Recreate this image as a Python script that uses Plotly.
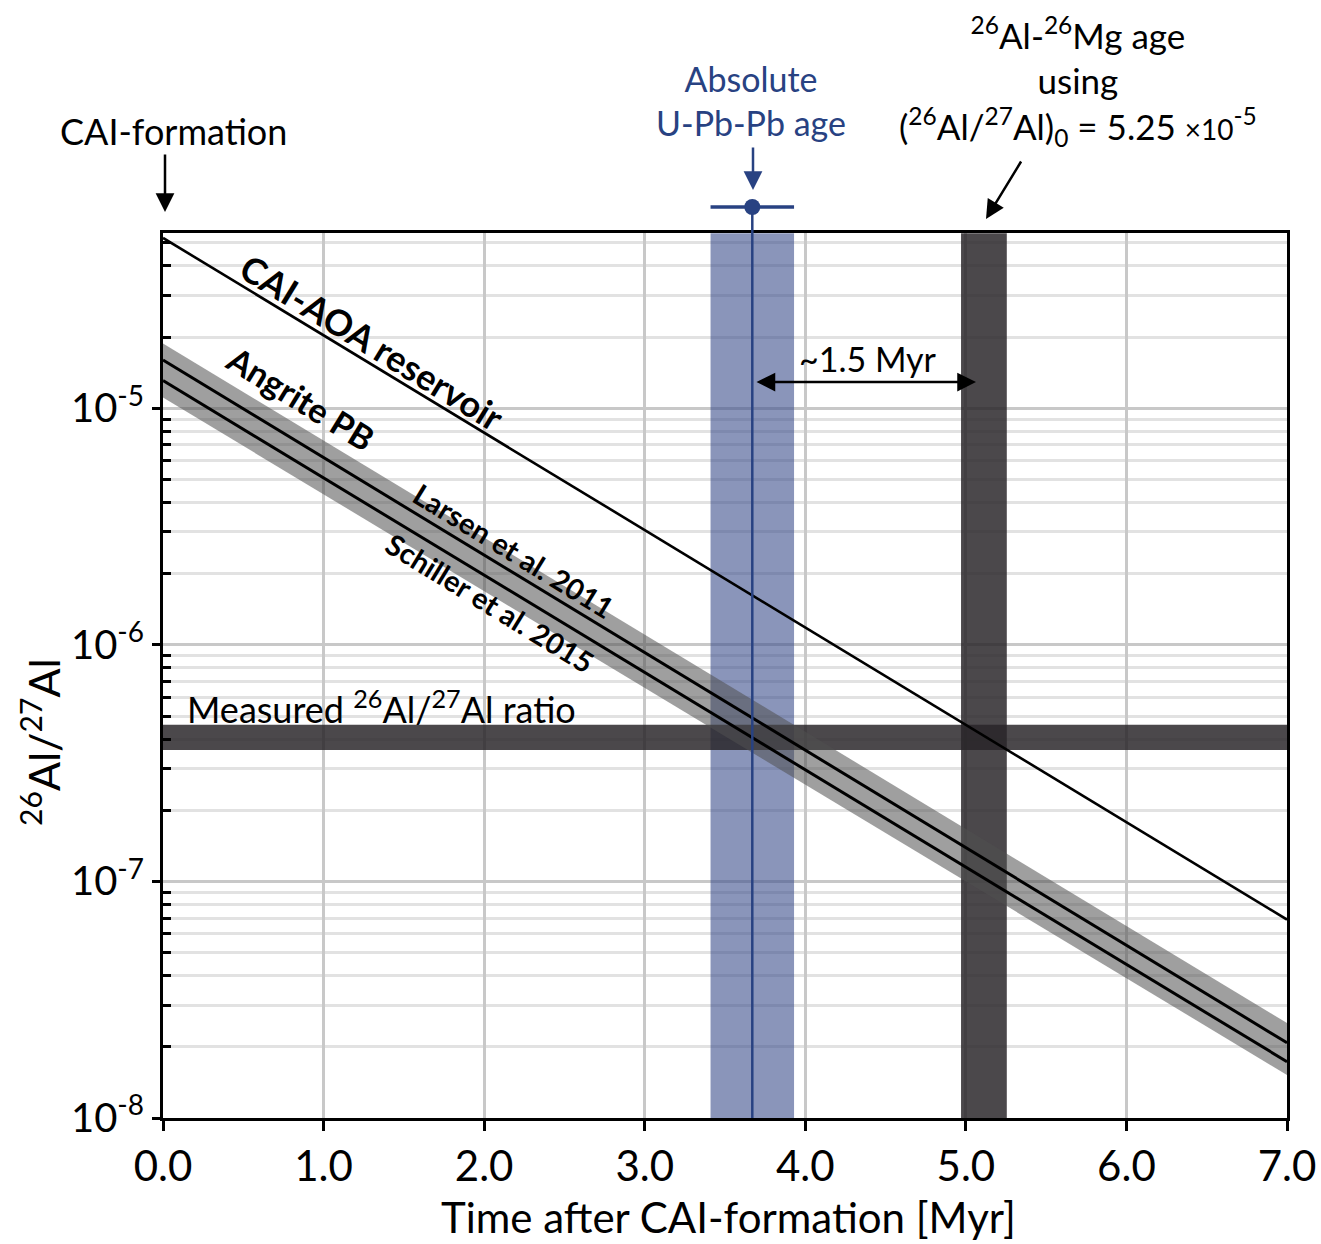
import plotly.graph_objects as go

# ---------------- data ----------------
TIME = [0.0, 7.0]                       # Myr after CAI formation
CAI_AOA = [5.25e-5, 6.9e-8]             # CAI-AOA reservoir
LARSEN = [1.60e-5, 2.08e-8]             # Larsen et al. 2011
SCHILLER = [1.31e-5, 1.73e-8]           # Schiller et al. 2015
ANGRITE_HI = [1.88e-5, 2.52e-8]         # Angrite PB envelope (upper)
ANGRITE_LO = [1.11e-5, 1.52e-8]         # Angrite PB envelope (lower)
MEASURED = [3.59e-7, 4.59e-7]           # measured 26Al/27Al ratio band
PBPB_AGE = 3.67                         # absolute U-Pb-Pb age (Myr after CAI)
PBPB_ERR = 0.26
ALMG_AGE = [4.97, 5.255]                # 26Al-26Mg age band
Y_RANGE = [1e-8, 5.5e-5]
DECADES = [-8, -7, -6, -5]
X_TICKS = [0, 1, 2, 3, 4, 5, 6, 7]

FONT = "Lato, 'Open Sans', sans-serif"
NAVY = "rgb(40,66,130)"

# pixel geometry of the frame
W, H = 1321, 1244
L, R, T, B = 163, 34, 233, 126
PW, PH = W - L - R, H - T - B


def px(xpix):
    return (xpix - L) / PW


def py(ypix):
    return (H - B - ypix) / PH


fig = go.Figure()


def band(xs, ys, color):
    fig.add_trace(go.Scatter(x=[xs[0], xs[1], xs[1], xs[0], xs[0]],
                             y=[ys[0], ys[0], ys[1], ys[1], ys[0]],
                             mode="lines", line=dict(width=0), fill="toself",
                             fillcolor=color, showlegend=False, hoverinfo="skip"))


band([PBPB_AGE - PBPB_ERR, PBPB_AGE + PBPB_ERR], Y_RANGE, "rgba(60,78,140,0.6)")
band(ALMG_AGE, Y_RANGE, "rgba(40,37,41,0.84)")
band(TIME, MEASURED, "rgba(40,37,41,0.84)")

# Angrite PB envelope
fig.add_trace(go.Scatter(x=TIME, y=ANGRITE_HI, mode="lines", line=dict(width=0),
                         showlegend=False, hoverinfo="skip"))
fig.add_trace(go.Scatter(x=TIME, y=ANGRITE_LO, mode="lines", line=dict(width=0),
                         fill="tonexty", fillcolor="rgba(80,80,80,0.55)",
                         showlegend=False, hoverinfo="skip"))
# decay lines
for ys, w in [(LARSEN, 3), (SCHILLER, 3), (CAI_AOA, 2.6)]:
    fig.add_trace(go.Scatter(x=TIME, y=ys, mode="lines", line=dict(color="black", width=w),
                             showlegend=False, hoverinfo="skip"))

MARK_Y = py(207)
shapes = [
    # U-Pb-Pb age line, error bar and marker (extending above the frame)
    dict(type="line", xref="x", yref="paper", x0=PBPB_AGE, x1=PBPB_AGE, y0=0, y1=MARK_Y,
         line=dict(color=NAVY, width=2.5), layer="above"),
    dict(type="line", xref="x", yref="paper", x0=PBPB_AGE - PBPB_ERR, x1=PBPB_AGE + PBPB_ERR,
         y0=MARK_Y, y1=MARK_Y, line=dict(color=NAVY, width=3.5), layer="above"),
    dict(type="circle", xref="x", yref="paper", xsizemode="pixel", ysizemode="pixel",
         xanchor=PBPB_AGE, yanchor=MARK_Y, x0=-8, x1=8, y0=-8, y1=8,
         fillcolor=NAVY, line=dict(width=0), layer="above"),
]

minor_vals = [k * 10 ** d for d in DECADES for k in range(2, 10) if k * 10 ** d < Y_RANGE[1]]

fig.update_layout(
    width=W, height=H,
    margin=dict(l=L, r=R, t=T, b=B),
    plot_bgcolor="white", paper_bgcolor="white",
    font=dict(family=FONT, color="black", size=34),
    shapes=shapes,
    hovermode=False,
    xaxis=dict(range=[0, 7], tickvals=X_TICKS, ticktext=[f"{v:.1f}" for v in X_TICKS],
               ticks="outside", ticklen=10, tickwidth=2.5, tickcolor="black",
               showgrid=True, gridcolor="rgb(200,200,200)", gridwidth=2.5,
               showline=True, linecolor="black", linewidth=3, mirror=True,
               zeroline=False, tickfont=dict(size=42), automargin=False),
    yaxis=dict(type="log", range=[-8, -4.259],
               tickvals=[10 ** d for d in DECADES],
               ticktext=[f"10<sup>{d}</sup>" for d in DECADES],
               ticks="outside", ticklen=8, tickwidth=2.5, tickcolor="black",
               showgrid=True, gridcolor="rgb(200,200,200)", gridwidth=2.5,
               minor=dict(tickmode="array", tickvals=minor_vals, ticks="inside",
                          ticklen=8, tickwidth=2.5, tickcolor="black",
                          showgrid=True, gridcolor="rgb(226,226,226)", gridwidth=2.5),
               showline=True, linecolor="black", linewidth=3, mirror=True,
               zeroline=False, tickfont=dict(size=40), automargin=False),
)

ann = []


def text(t, x, y, size, color="black", angle=0, xanchor="center"):
    ann.append(dict(text=t, xref="paper", yref="paper", x=px(x), y=py(y),
                    xanchor=xanchor, yanchor="middle", showarrow=False, textangle=angle,
                    font=dict(size=size, color=color)))


def arrow(hx, hy, tx, ty, color="black", both=False):
    ann.append(dict(text="", xref="paper", yref="paper", x=px(hx), y=py(hy),
                    ax=tx - hx, ay=ty - hy, showarrow=True, arrowhead=2, arrowsize=1.5,
                    arrowwidth=2.5, arrowcolor=color,
                    arrowside="end+start" if both else "end"))


# axis titles
text("Time after CAI-formation [Myr]", 728, 1217, 42)
text("<sup>26</sup>Al/<sup>27</sup>Al", 40, 742, 43, angle=-90)
# top annotations
text("CAI-formation", 173, 131, 36)
arrow(165, 212, 165, 153)
text("Absolute<br>U-Pb-Pb age", 751, 100, 34, color=NAVY)
arrow(753, 190, 753, 146, color=NAVY)
text("<sup>26</sup>Al-<sup>26</sup>Mg age<br>using<br>"
     "(<sup>26</sup>Al/<sup>27</sup>Al)<sub>0</sub> = 5.25 "
     "<span style='font-size:28px'>×10</span><sup>-5</sup>", 1078, 81, 35)
arrow(986, 219, 1022, 160)
# in-plot annotations
text("~1.5 Myr", 868, 358, 34)
arrow(976, 382, 755, 382, both=True)
text("Measured <sup>26</sup>Al/<sup>27</sup>Al ratio", 185, 707, 36, xanchor="left")
for t, cx, cy, sz in [("CAI-AOA reservoir", 372, 342, 36),
                      ("Angrite PB", 300, 398, 34),
                      ("Larsen et al. 2011", 514, 550, 29),
                      ("Schiller et al. 2015", 490, 602, 29)]:
    text(f"<b>{t}</b>", cx, cy, sz, angle=31.5)

fig.update_layout(annotations=ann)

fig.write_html("out.html", post_script="document.body.style.margin='0px';",
               config={"displayModeBar": False})
